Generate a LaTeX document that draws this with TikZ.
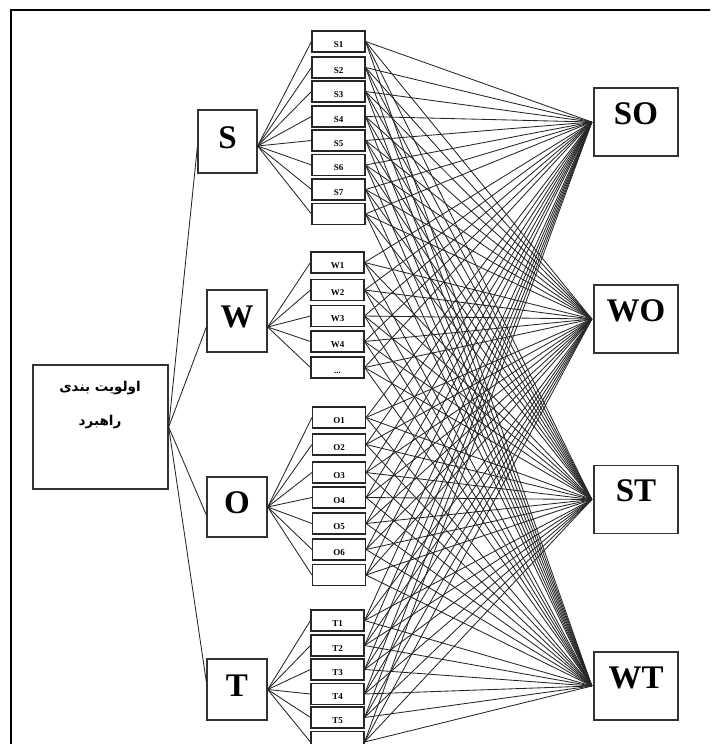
\documentclass[tikz,border=0pt]{standalone}
\usepackage{fontspec}
\setmainfont{Liberation Serif}
\newfontfamily\arabicfont[Script=Arabic]{DejaVu Sans}
\TeXXeTstate=1
\begin{document}
\begin{tikzpicture}[x=1pt,y=-1pt,
  grp/.style={draw=black!80, line width=1.3pt, inner sep=0pt,
    font=\bfseries\fontsize{33}{33}\selectfont, text depth=8pt},
  res/.style={draw=black!80, line width=1.3pt, inner sep=0pt,
    minimum width=84pt, minimum height=68pt,
    font=\bfseries\fontsize{33}{33}\selectfont, text depth=17pt},
  sm/.style={draw=black!85, line width=1.1pt, inner sep=0pt,
    minimum width=53pt, minimum height=21pt,
    font=\bfseries\fontsize{9}{9}\selectfont, text height=11pt, text depth=0pt},
  ln/.style={draw=black!85, line width=0.85pt},
  artxt/.style={font=\arabicfont\bfseries\fontsize{13.5}{13.5}\selectfont, inner sep=0pt}]
\useasboundingbox (0,0) rectangle (710,744);
\clip (0,0) rectangle (710,744);
% outer frame
\draw[line width=2.6pt] (11,800) -- (11,10) -- (760,10);
% main box
\node[draw=black!80, line width=1.3pt, minimum width=135pt, minimum height=124pt, inner sep=0pt] (P) at (100.5,427) {};
\node[artxt] (P1) at (100,388) {\beginR اولویت بندی\endR};
\node[artxt] (P2) at (100,422) {\beginR راهبرد\endR};
% group boxes
\node[grp, minimum width=59pt, minimum height=63pt] (S) at (227.5,141.5) {S};
\node[grp, minimum width=60pt, minimum height=62pt] (W) at (237,321) {W};
\node[grp, minimum width=60pt, minimum height=60pt] (O) at (237,507) {O};
\node[grp, minimum width=60pt, minimum height=61pt] (T) at (237,689.5) {T};
% result boxes
\node[res] (SO) at (636,122) {SO};
\node[res] (WO) at (636,319) {WO};
\node[res] (ST) at (636,499.5) {ST};
\node[res] (WT) at (636,686) {WT};
% small boxes
\foreach \n/\y/\t in {S1/41.5/S1,S2/67.5/S2,S3/91.5/S3,S4/116.5/S4,S5/140.5/S5,S6/165/S6,S7/189.5/S7,S8/214/{}}
  \node[sm] (\n) at (338.5,\y) {\t};
\foreach \n/\y/\t in {W1/262.5/W1,W2/290/W2,W3/316/W3,W4/341.5/W4,W5/367.5/{...}}
  \node[sm] (\n) at (337.5,\y) {\t};
\foreach \n/\y/\t in {O1/417.5/O1,O2/444.5/O2,O3/472.5/O3,O4/497.5/O4,O5/523.5/O5,O6/549.5/O6,O7/575/{}}
  \node[sm] (\n) at (339,\y) {\t};
\foreach \n/\y/\t in {T1/620.5/T1,T2/645.5/T2,T3/669.5/T3,T4/694/T4,T5/717.5/T5,T6/742/{}}
  \node[sm] (\n) at (337.5,\y) {\t};
% main to groups
\draw[ln] (P.east) -- ([yshift=-5.5pt]S.west);
\draw[ln] (P.east) -- ([yshift=-6pt]W.west);
\draw[ln] (P.east) -- ([yshift=-8pt]O.west);
\draw[ln] (P.east) -- ([yshift=7.5pt]T.west);
% groups to items
\foreach \n in {S1,S2,S3,S4,S5,S6,S7,S8}
  \draw[ln] ([yshift=-4.5pt]S.east) -- (\n.west);
\foreach \n in {W1,W2,W3,W4,W5}
  \draw[ln] ([yshift=-6pt]W.east) -- (\n.west);
\foreach \n in {O1,O2,O3,O4,O5,O6,O7}
  \draw[ln] (O.east) -- (\n.west);
\foreach \n in {T1,T2,T3,T4,T5,T6}
  \draw[ln] (T.east) -- (\n.west);
% items to strategies
\foreach \n in {S1,S2,S3,S4,S5,S6,S7,S8,W1,W2,W3,W4,W5,O1,O2,O3,O4,O5,O6,O7,T1,T2,T3,T4,T5,T6}
  \foreach \r in {SO,WO,ST,WT}
    \draw[ln] (\n.east) -- ([xshift=-1.5pt]\r.west);
\end{tikzpicture}
\end{document}
